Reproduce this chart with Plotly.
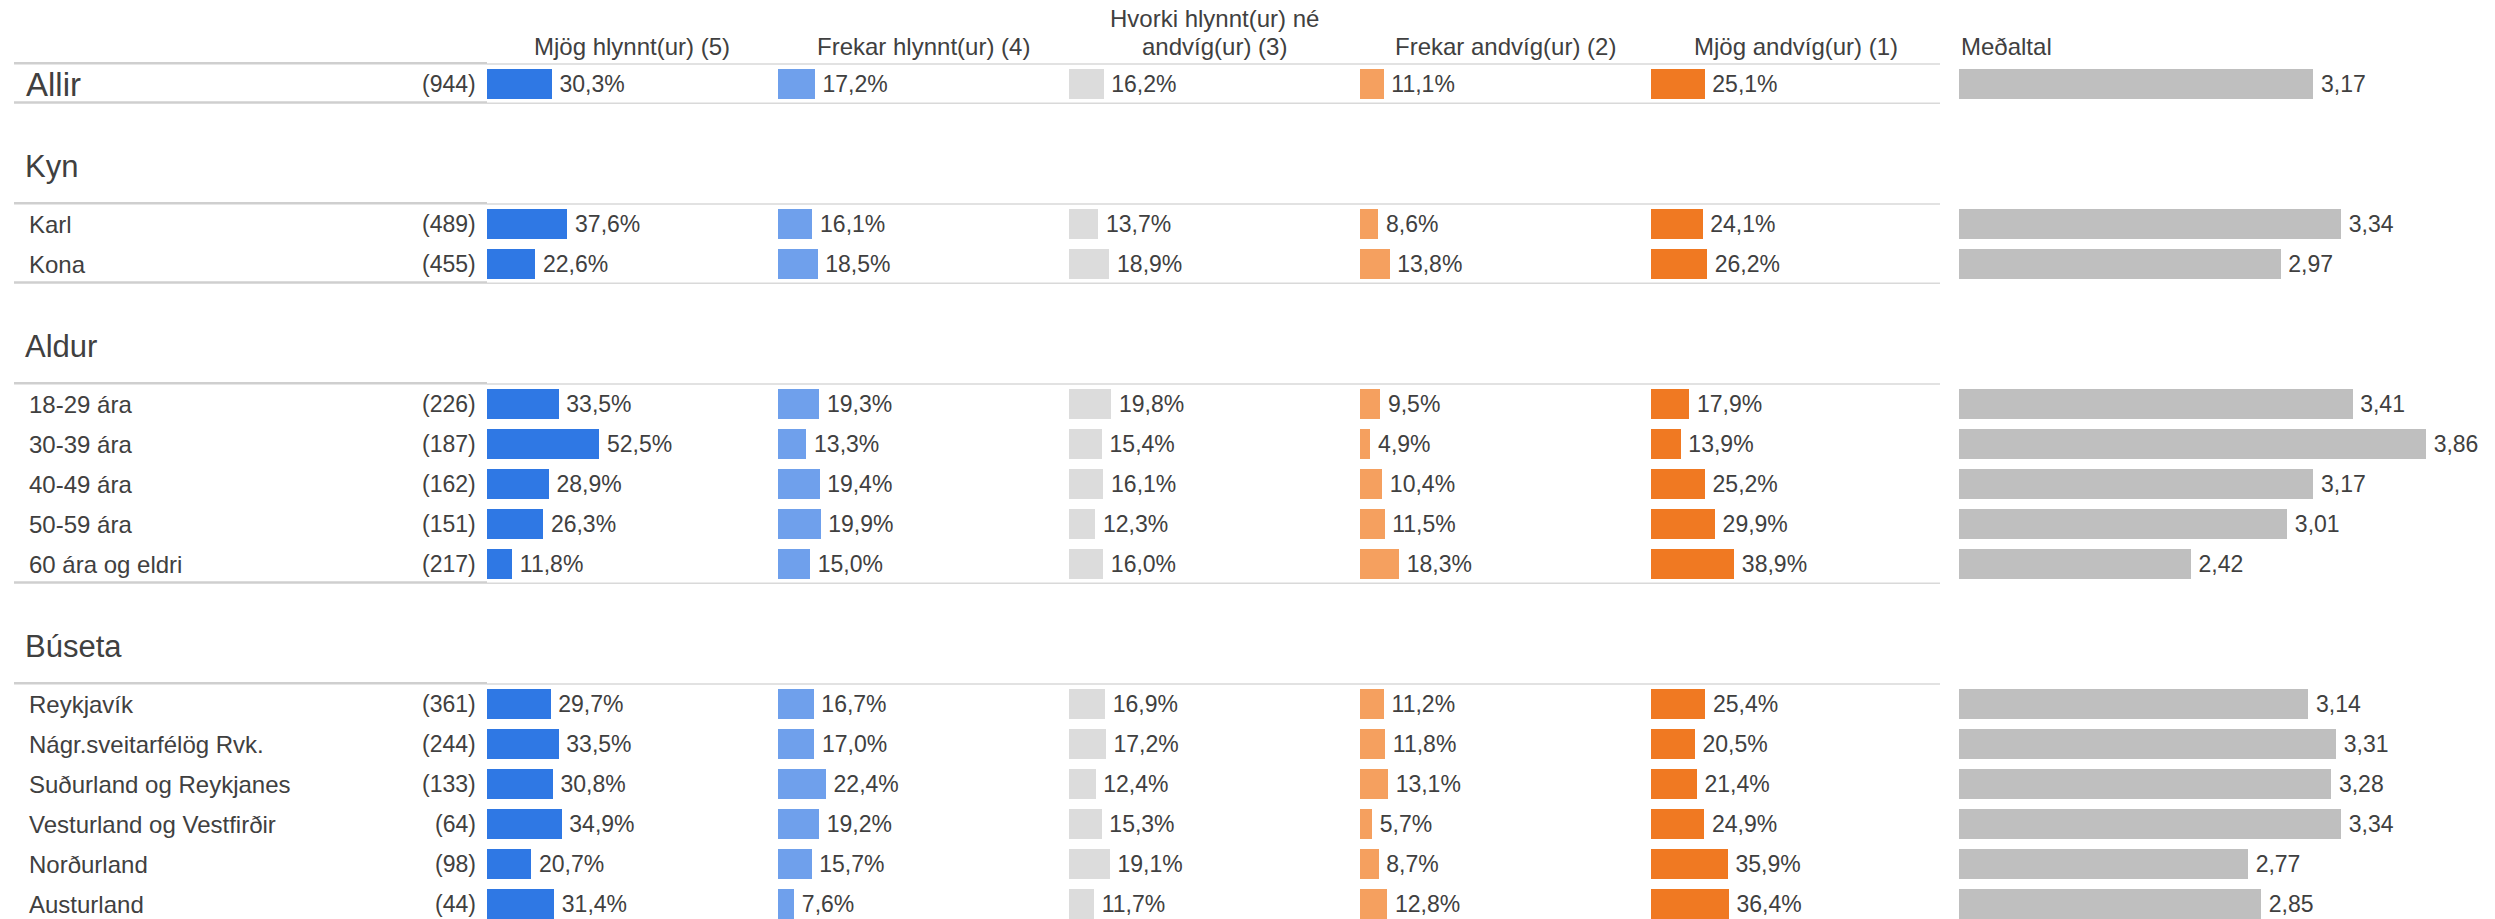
import plotly.graph_objects as go

# ---------------- data ----------------
categories = ["Allir", "Karl", "Kona",
              "18-29 ára", "30-39 ára", "40-49 ára", "50-59 ára", "60 ára og eldri",
              "Reykjavík", "Nágr.sveitarfélög Rvk.", "Suðurland og Reykjanes",
              "Vesturland og Vestfirðir", "Norðurland", "Austurland"]
counts = [944, 489, 455, 226, 187, 162, 151, 217, 361, 244, 133, 64, 98, 44]
mjog_hlynnt = [30.3, 37.6, 22.6, 33.5, 52.5, 28.9, 26.3, 11.8, 29.7, 33.5, 30.8, 34.9, 20.7, 31.4]
frekar_hlynnt = [17.2, 16.1, 18.5, 19.3, 13.3, 19.4, 19.9, 15.0, 16.7, 17.0, 22.4, 19.2, 15.7, 7.6]
hvorki = [16.2, 13.7, 18.9, 19.8, 15.4, 16.1, 12.3, 16.0, 16.9, 17.2, 12.4, 15.3, 19.1, 11.7]
frekar_andvig = [11.1, 8.6, 13.8, 9.5, 4.9, 10.4, 11.5, 18.3, 11.2, 11.8, 13.1, 5.7, 8.7, 12.8]
mjog_andvig = [25.1, 24.1, 26.2, 17.9, 13.9, 25.2, 29.9, 38.9, 25.4, 20.5, 21.4, 24.9, 35.9, 36.4]
medaltal = [3.17, 3.34, 2.97, 3.41, 3.86, 3.17, 3.01, 2.42, 3.14, 3.31, 3.28, 3.34, 2.77, 2.85]

group_names = ["", "Kyn", "Aldur", "Búseta"]
group_sizes = [1, 2, 5, 6]

series_names = [["Mjög hlynnt(ur) (5)"], ["Frekar hlynnt(ur) (4)"],
                ["Hvorki hlynnt(ur) né", "andvíg(ur) (3)"], ["Frekar andvíg(ur) (2)"],
                ["Mjög andvíg(ur) (1)"]]
series_values = [mjog_hlynnt, frekar_hlynnt, hvorki, frekar_andvig, mjog_andvig]
mean_title = "Meðaltal"

# ---------------- styling ----------------
W, H = 2495, 919
FONT = "Liberation Sans, Arial, sans-serif"
TXT = "#404040"
colors = ["#2f78e4", "#6fa0ec", "#dcdcdc", "#f5a05f", "#f07922"]
mean_color = "#bfbfbf"

ROW_PX = 40.0
TOP_CENTER_PX = 84.0
col_start_px = [487, 778, 1069, 1360, 1651]
col_w_px = 290
px_per_pct = 2.14
mean_start_px = 1959
mean_px_per_unit = 163.3

# row positions (in row units)
positions = []
group_first = []
group_last = []
u = 0.0
for gi, size in enumerate(group_sizes):
    if gi > 0:
        u = positions[-1] + 3.5
    group_first.append(u)
    for k in range(size):
        positions.append(u + k)
    group_last.append(positions[-1])

y_top = -TOP_CENTER_PX / ROW_PX
y_bottom = y_top + H / ROW_PX

PAD = "\u2009"


def pct(v):
    return PAD + f"{v:.1f}".replace(".", ",") + "%"


def dec(v):
    return PAD + f"{v:.2f}".replace(".", ",")


fig = go.Figure()
layout_axes = {}
for i, (vals, col) in enumerate(zip(series_values, colors)):
    ax = "x" if i == 0 else f"x{i+1}"
    fig.add_trace(go.Bar(
        orientation="h", x=vals, y=positions, width=0.75,
        marker=dict(color=col, line=dict(width=0)),
        text=[pct(v) for v in vals], textposition="outside",
        textfont=dict(family=FONT, size=23, color=TXT),
        constraintext="none", cliponaxis=False,
        xaxis=ax, yaxis="y", hoverinfo="skip", showlegend=False))
    key = "xaxis" if i == 0 else f"xaxis{i+1}"
    x0 = col_start_px[i]
    layout_axes[key] = dict(domain=[x0 / W, (x0 + col_w_px) / W],
                            range=[0, col_w_px / px_per_pct], visible=False,
                            anchor="y", fixedrange=True)

fig.add_trace(go.Bar(
    orientation="h", x=medaltal, y=positions, width=0.75,
    marker=dict(color=mean_color, line=dict(width=0)),
    text=[dec(v) for v in medaltal], textposition="outside",
    textfont=dict(family=FONT, size=23, color=TXT),
    constraintext="none", cliponaxis=True,
    xaxis="x6", yaxis="y", hoverinfo="skip", showlegend=False))
layout_axes["xaxis6"] = dict(domain=[mean_start_px / W, 1.0],
                             range=[1, 1 + (W - mean_start_px) / mean_px_per_unit],
                             visible=False, anchor="y", fixedrange=True)

annotations = []
# row labels and counts
for idx, (cat, n, yy) in enumerate(zip(categories, counts, positions)):
    big = idx == 0
    annotations.append(dict(text=cat, xref="paper", yref="y", x=(24 if big else 27) / W, y=yy,
                            xanchor="left", yanchor="middle", showarrow=False,
                            font=dict(family=FONT, size=33 if big else 24, color=TXT)))
    annotations.append(dict(text=f"({n})", xref="paper", yref="y", x=478 / W, y=yy,
                            xanchor="right", yanchor="middle", showarrow=False,
                            font=dict(family=FONT, size=23, color=TXT)))
# group headers
for name, first in zip(group_names, group_first):
    if name:
        annotations.append(dict(text=name, xref="paper", yref="y", x=23 / W, y=first - 1.45,
                                xanchor="left", yanchor="middle", showarrow=False,
                                font=dict(family=FONT, size=31, color=TXT)))
# column headers (each line placed separately, bottom line aligned)
HEADER_Y = -0.56
LINE_STEP = 0.69
for i, lines in enumerate(series_names):
    for j, line in enumerate(reversed(lines)):
        annotations.append(dict(text=line, xref="paper", yref="y",
                                x=(col_start_px[i] + 145) / W, y=HEADER_Y - j * LINE_STEP,
                                xanchor="center", yanchor="bottom", showarrow=False,
                                font=dict(family=FONT, size=24, color=TXT)))
annotations.append(dict(text=mean_title, xref="paper", yref="y", x=mean_start_px / W, y=HEADER_Y,
                        xanchor="left", yanchor="bottom", showarrow=False,
                        font=dict(family=FONT, size=24, color=TXT)))

# separator lines
shapes = []
for first, last in zip(group_first, group_last):
    for yy in (first - 0.52, last + 0.46):
        shapes.append(dict(type="line", xref="paper", yref="y", x0=14 / W, x1=487 / W,
                           y0=yy, y1=yy, line=dict(color="#cfcfcf", width=2.5)))
        shapes.append(dict(type="line", xref="paper", yref="y", x0=487 / W, x1=1940 / W,
                           y0=yy + 0.02, y1=yy + 0.02, line=dict(color="#d9d9d9", width=1.5)))

fig.update_layout(
    width=W, height=H,
    margin=dict(l=0, r=0, t=0, b=0),
    paper_bgcolor="white", plot_bgcolor="white",
    yaxis=dict(range=[y_bottom, y_top], visible=False, fixedrange=True),
    annotations=annotations, shapes=shapes,
    bargap=0, showlegend=False,
    **layout_axes)

fig.write_html("out.html",
               config={"displayModeBar": False, "staticPlot": True},
               post_script="document.body.style.margin='0';document.body.style.padding='0';")
